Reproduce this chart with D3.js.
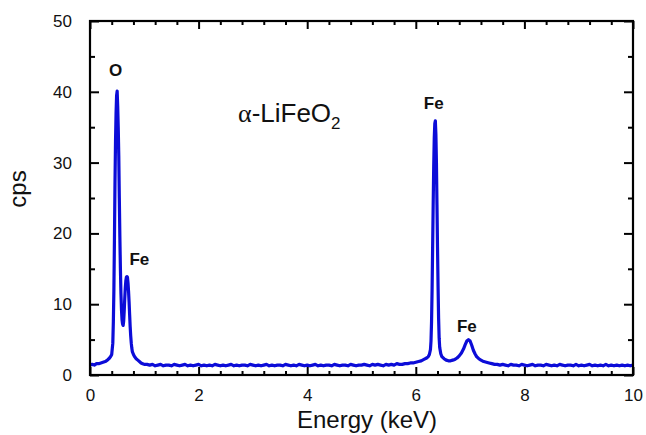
<!DOCTYPE html>
<html><head><meta charset="utf-8">
<script src="https://cdn.jsdelivr.net/npm/d3@7"></script>
<style>body{margin:0;background:#fff;} svg{display:block;}</style>
</head><body>
<svg id="c" width="646" height="435"></svg>
<script>
// Energy (keV) channels
const energy = [
 0,0.04,0.08,0.12,0.16,0.20,0.24,0.28,0.32,0.36,
 0.38,0.40,0.42,0.43,0.44,0.45,0.46,0.47,0.48,0.49,0.50,0.51,0.52,0.53,0.54,0.55,0.56,0.57,0.58,0.59,0.60,0.61,0.62,0.63,0.64,0.65,0.66,0.67,0.68,0.69,0.70,0.71,0.72,0.73,0.74,0.75,0.76,0.77,0.78,0.80,0.82,0.85,0.88,0.91,0.94,0.97,1.00,
 1.05,1.10,1.15,1.20,1.25,1.30,1.35,1.40,1.45,1.50,1.55,1.60,1.65,1.70,1.75,1.80,1.85,1.90,1.95,2.00,
 2.05,2.10,2.15,2.20,2.25,2.30,2.35,2.40,2.45,2.50,2.55,2.60,2.65,2.70,2.75,2.80,2.85,2.90,2.95,3.00,
 3.05,3.10,3.15,3.20,3.25,3.30,3.35,3.40,3.45,3.50,3.55,3.60,3.65,3.70,3.75,3.80,3.85,3.90,3.95,4.00,
 4.05,4.10,4.15,4.20,4.25,4.30,4.35,4.40,4.45,4.50,4.55,4.60,4.65,4.70,4.75,4.80,4.85,4.90,4.95,5.00,
 5.05,5.10,5.15,5.20,5.25,5.30,5.35,5.40,5.45,5.50,5.55,5.60,5.65,5.70,5.75,5.80,5.85,5.90,5.95,6.00,
 6.05,6.10,6.15,6.20,6.23,6.25,6.27,6.28,6.29,6.30,6.31,6.32,6.33,6.34,6.35,6.36,6.37,6.38,6.39,6.40,6.41,6.42,6.43,6.44,6.46,6.48,
 6.52,6.56,6.60,6.64,6.68,6.72,6.76,6.80,6.84,6.88,6.91,6.94,6.97,7.00,7.03,7.06,7.09,7.12,7.16,7.20,7.25,7.30,7.35,7.40,7.45,
 7.50,7.55,7.60,7.65,7.70,7.75,7.80,7.85,7.90,7.95,8.00,8.05,8.10,8.15,8.20,8.25,8.30,8.35,8.40,8.45,
 8.50,8.55,8.60,8.65,8.70,8.75,8.80,8.85,8.90,8.95,9.00,9.05,9.10,9.15,9.20,9.25,9.30,9.35,9.40,9.45,
 9.50,9.55,9.60,9.65,9.70,9.75,9.80,9.85,9.90,9.95,10.00
];
// Count rate (cps) at each channel
const cps = [
 1.4,1.5,1.4,1.6,1.6,1.7,1.8,1.9,2.1,2.4,
 2.6,2.9,4.5,7.5,12,19,27,33,37,39.5,40.1,38,35,31,25,19.5,15,11.5,9.2,7.8,7.2,7.0,7.6,9.0,10.8,12.3,13.3,13.8,13.9,13.8,13.0,11.8,10.3,8.5,6.8,5.5,4.5,3.8,3.3,2.9,2.6,2.3,2.1,1.9,1.7,1.6,1.5,
 1.5,1.4,1.5,1.3,1.4,1.5,1.3,1.4,1.4,1.3,1.5,1.4,1.3,1.4,1.5,1.3,1.4,1.3,1.4,1.5,
 1.3,1.4,1.3,1.4,1.3,1.5,1.4,1.3,1.4,1.3,1.4,1.5,1.3,1.4,1.3,1.4,1.4,1.3,1.5,1.4,
 1.3,1.4,1.3,1.4,1.5,1.3,1.4,1.3,1.4,1.4,1.3,1.5,1.4,1.3,1.4,1.3,1.5,1.4,1.3,1.4,
 1.3,1.4,1.5,1.3,1.4,1.3,1.4,1.4,1.3,1.5,1.4,1.3,1.4,1.4,1.3,1.5,1.4,1.3,1.4,1.4,
 1.5,1.4,1.3,1.5,1.4,1.5,1.4,1.3,1.5,1.4,1.5,1.4,1.6,1.5,1.5,1.6,1.6,1.7,1.7,1.8,
 1.9,2.0,2.2,2.4,2.6,2.9,3.6,4.8,7.5,12,18,24,29.5,33.5,35.5,35.9,34,30,24,18,12.5,8,5.2,3.9,3.0,2.6,
 2.3,2.1,2.0,2.0,2.1,2.2,2.4,2.7,3.1,3.7,4.3,4.8,5.0,4.8,4.2,3.5,3.0,2.6,2.3,2.1,1.9,1.8,1.7,1.6,1.5,
 1.5,1.4,1.5,1.4,1.3,1.5,1.4,1.4,1.3,1.5,1.4,1.3,1.4,1.5,1.3,1.4,1.4,1.3,1.5,1.4,
 1.3,1.4,1.3,1.5,1.4,1.3,1.4,1.4,1.3,1.5,1.3,1.4,1.3,1.4,1.5,1.3,1.4,1.3,1.4,1.3,
 1.5,1.3,1.4,1.3,1.4,1.3,1.4,1.3,1.4,1.3,1.4
];
const xMajorTicks = [0,2,4,6,8,10];
const yMajorTicks = [0,10,20,30,40,50];
const peakLabels = ["O","Fe","Fe","Fe"];
const peakLabelPos = [[0.47,42.3],[0.91,15.5],[6.33,37.6],[6.94,6.1]];

const svg = d3.select("#c");
const L=90, R=633, T=21, B=375;
const x = d3.scaleLinear().domain([0,10]).range([L,R]);
const y = d3.scaleLinear().domain([0,50]).range([B,T]);
const font = "Liberation Sans, Arial, Helvetica, sans-serif";

// data line
const data = energy.map((e,i)=>[e,cps[i]]);
svg.append("path").datum(data)
  .attr("fill","none").attr("stroke","#0c0cd8").attr("stroke-width",3.2)
  .attr("stroke-linejoin","round")
  .attr("d", d3.line().x(d=>x(d[0])).y(d=>y(d[1])));

// axes (ticks inward)
const xMinor = d3.range(0,10.001,0.4).filter(v=>Math.abs(v/2-Math.round(v/2))>1e-6);
const yMinor = [5,15,25,35,45];
function tickG(gen, tr){ return svg.append("g").attr("transform",tr).call(gen); }
tickG(d3.axisBottom(x).tickValues(xMajorTicks).tickSizeInner(-8).tickSizeOuter(0).tickPadding(14).tickFormat(d3.format("d")), `translate(0,${B})`);
tickG(d3.axisBottom(x).tickValues(xMinor).tickSizeInner(-4).tickSizeOuter(0).tickFormat(""), `translate(0,${B})`);
tickG(d3.axisTop(x).tickValues(xMajorTicks).tickSizeInner(-8).tickSizeOuter(0).tickFormat(""), `translate(0,${T})`);
tickG(d3.axisTop(x).tickValues(xMinor).tickSizeInner(-4).tickSizeOuter(0).tickFormat(""), `translate(0,${T})`);
tickG(d3.axisLeft(y).tickValues(yMajorTicks).tickSizeInner(-9).tickSizeOuter(0).tickPadding(18).tickFormat(d3.format("d")), `translate(${L},0)`);
tickG(d3.axisLeft(y).tickValues(yMinor).tickSizeInner(-5).tickSizeOuter(0).tickFormat(""), `translate(${L},0)`);
tickG(d3.axisRight(y).tickValues(yMajorTicks).tickSizeInner(-9).tickSizeOuter(0).tickFormat(""), `translate(${R},0)`);
tickG(d3.axisRight(y).tickValues(yMinor).tickSizeInner(-5).tickSizeOuter(0).tickFormat(""), `translate(${R},0)`);
svg.selectAll(".domain").remove();
svg.selectAll(".tick line").attr("stroke","#000").attr("stroke-width",2);
svg.selectAll(".tick text").attr("font-family",font).attr("font-size",17).attr("fill","#111");

// frame
svg.append("rect").attr("x",L).attr("y",T).attr("width",R-L).attr("height",B-T)
  .attr("fill","none").attr("stroke","#000").attr("stroke-width",2.2);

// axis titles
svg.append("text").attr("x",367).attr("y",428).attr("text-anchor","middle")
  .attr("font-family",font).attr("font-size",24).attr("fill","#111").text("Energy (keV)");
svg.append("text").attr("transform","translate(26,189) rotate(-90)").attr("text-anchor","middle")
  .attr("font-family",font).attr("font-size",24).attr("fill","#111").text("cps");

// peak labels
peakLabels.forEach((t,i)=>{
  svg.append("text").attr("x",x(peakLabelPos[i][0])).attr("y",y(peakLabelPos[i][1]))
   .attr("text-anchor","middle").attr("font-family",font).attr("font-weight","bold")
   .attr("font-size",17).attr("fill","#111").text(t);
});

// compound label
const lab = svg.append("text").attr("x",238).attr("y",122)
  .attr("font-family",font).attr("font-size",26).attr("fill","#111");
lab.append("tspan").attr("font-family","Liberation Serif, Times New Roman, serif").text("α");
lab.append("tspan").text("-LiFeO");
lab.append("tspan").attr("font-size",17).attr("dy",7).text("2");
</script>
</body></html>
